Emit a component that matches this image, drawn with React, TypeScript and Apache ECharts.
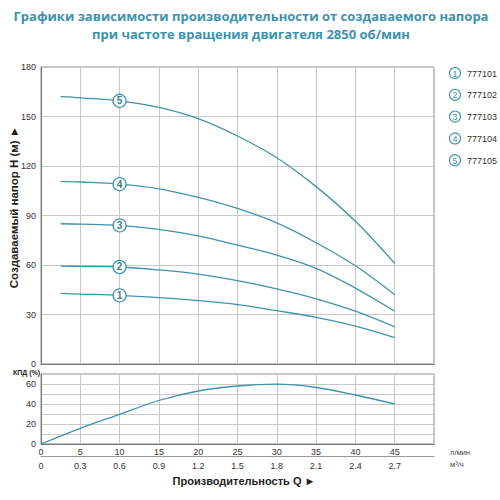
import React, { useEffect, useRef } from "react";
import * as echarts from "echarts";

// Q, l/min
const flow = [2.5, 5, 10, 15, 20, 25, 30, 35, 40, 45];
// H, m
const head101 = [42.8, 42.4, 41.6, 40.2, 38.4, 36, 32.3, 28.3, 23, 16];
const head102 = [59.3, 59.2, 58.8, 57, 54.5, 50.5, 45.5, 39.5, 32, 22.5];
const head103 = [85, 84.8, 84, 81.6, 77.6, 72, 66, 58, 46, 32];
const head104 = [110.7, 110.3, 109, 106.2, 101, 94.3, 85.5, 73.5, 59.5, 42];
const head105 = [162, 161.3, 159.5, 155.5, 148.7, 138.2, 125, 107.5, 86.5, 61];

const effFlow = [0, 5, 10, 15, 20, 25, 30, 35, 40, 45];
const efficiency = [0, 15.7, 29.7, 43.5, 53, 58, 59.8, 56.5, 49, 40];

const models = ["777101", "777102", "777103", "777104", "777105"];
const curveNumbers = ["1", "2", "3", "4", "5"];
const markerFlow = 10;

const titleLines = [
    "Графики зависимости производительности от создаваемого напора",
    "при частоте вращения двигателя 2850 об/мин",
];

const TEAL = "#3f93aa";
const TITLE = "#3a93b0";
const FONT = "Liberation Sans, Arial, sans-serif";

const App: React.FC = () => {
    const chartRef = useRef<HTMLDivElement>(null);

    useEffect(() => {
        if (!chartRef.current) return;
        const chart = echarts.init(chartRef.current, undefined, { renderer: "svg" });

        const heads = [head101, head102, head103, head104, head105];

        const curveSeries = heads.map((h, k) => ({
            type: "line",
            xAxisIndex: 0,
            yAxisIndex: 0,
            smooth: 0.35,
            symbol: "none",
            showSymbol: true,
            lineStyle: { color: TEAL, width: 1.3 },
            z: 3,
            data: flow.map((q, i) =>
                q === markerFlow
                    ? {
                          value: [q, h[i]],
                          symbol: "circle",
                          symbolSize: 13,
                          itemStyle: { color: "#fff", borderColor: TEAL, borderWidth: 1.3 },
                          label: {
                              show: true,
                              position: "inside",
                              formatter: curveNumbers[k],
                              color: "#3a7f92",
                              fontSize: 10,
                              fontWeight: "bold",
                              fontFamily: FONT,
                          },
                      }
                    : [q, h[i]]
            ),
        }));

        const legendItems = models.map((m, k) => ({
            type: "group",
            x: 455,
            y: 73 + k * 21.8,
            children: [
                {
                    type: "circle",
                    shape: { cx: 0, cy: 0, r: 5.5 },
                    style: { fill: "#fff", stroke: TEAL, lineWidth: 1.1 },
                },
                {
                    type: "text",
                    x: 0,
                    y: 0.5,
                    style: {
                        text: curveNumbers[k],
                        fill: TEAL,
                        font: `9px ${FONT}`,
                        align: "center",
                        verticalAlign: "middle",
                    },
                },
                {
                    type: "text",
                    x: 12,
                    y: 0.5,
                    style: {
                        text: m,
                        fill: "#333",
                        font: `9px ${FONT}`,
                        align: "left",
                        verticalAlign: "middle",
                    },
                },
            ],
        }));

        const titleTexts = titleLines.map((t, k) => ({
            type: "text",
            x: 251,
            y: 15.5 + k * 18,
            style: {
                text: t,
                fill: TITLE,
                font: "bold 13px 'Open Sans'",
                align: "center",
                verticalAlign: "middle",
            },
        }));

        const option = {
            animation: false,
            backgroundColor: "#fff",
            grid: [
                { left: 41, top: 67, width: 393, height: 297, show: true, borderColor: "#8c8c8c", borderWidth: 1 },
                { left: 41, top: 374, width: 393, height: 70, show: true, borderColor: "#8c8c8c", borderWidth: 1 },
            ],
            xAxis: [
                {
                    type: "value",
                    gridIndex: 0,
                    min: 0,
                    max: 50,
                    interval: 5,
                    axisLine: { show: true, lineStyle: { color: "#777" } },
                    axisTick: { show: false },
                    axisLabel: { show: false },
                    splitLine: { show: true, lineStyle: { color: "#c8c8c8" } },
                },
                {
                    type: "value",
                    gridIndex: 1,
                    min: 0,
                    max: 50,
                    interval: 5,
                    axisLine: { show: true, lineStyle: { color: "#777" } },
                    axisTick: { show: false },
                    axisLabel: {
                        margin: 3,
                        fontSize: 9,
                        color: "#333",
                        fontFamily: FONT,
                        formatter: (v: number) => (v === 50 ? "" : String(v)),
                    },
                    splitLine: { show: true, lineStyle: { color: "#c8c8c8" } },
                },
                {
                    type: "value",
                    gridIndex: 1,
                    position: "bottom",
                    offset: 12,
                    min: 0,
                    max: 50,
                    interval: 5,
                    axisLine: { show: true, lineStyle: { color: "#999" } },
                    axisTick: { show: false },
                    axisLabel: {
                        margin: 5,
                        fontSize: 9,
                        color: "#333",
                        fontFamily: FONT,
                        formatter: (v: number) => (v === 50 ? "" : v === 0 ? "0" : (v * 0.06).toFixed(1)),
                    },
                    splitLine: { show: false },
                },
            ],
            yAxis: [
                {
                    type: "value",
                    gridIndex: 0,
                    min: 0,
                    max: 180,
                    interval: 30,
                    axisLine: { show: true, lineStyle: { color: "#777" } },
                    axisTick: { show: false },
                    axisLabel: { margin: 5, fontSize: 9, color: "#333", fontFamily: FONT },
                    splitLine: { show: true, lineStyle: { color: "#c8c8c8" } },
                },
                {
                    type: "value",
                    gridIndex: 1,
                    min: 0,
                    max: 70,
                    interval: 10,
                    axisLine: { show: true, lineStyle: { color: "#777" } },
                    axisTick: { show: false },
                    axisLabel: {
                        margin: 5,
                        fontSize: 9,
                        color: "#333",
                        fontFamily: FONT,
                        formatter: (v: number) => (v % 20 === 0 ? String(v) : ""),
                    },
                    splitLine: { show: true, lineStyle: { color: "#c8c8c8" } },
                },
            ],
            series: [
                ...curveSeries,
                {
                    type: "line",
                    xAxisIndex: 1,
                    yAxisIndex: 1,
                    smooth: 0.35,
                    showSymbol: false,
                    lineStyle: { color: TEAL, width: 1.3 },
                    data: effFlow.map((q, i) => [q, efficiency[i]]),
                },
            ],
            graphic: [
                ...titleTexts,
                ...legendItems,
                {
                    type: "text",
                    x: 14,
                    y: 207,
                    rotation: Math.PI / 2,
                    style: {
                        text: "Создаваемый напор H (м) ►",
                        fill: "#222",
                        font: `bold 11.5px ${FONT}`,
                        align: "center",
                        verticalAlign: "middle",
                    },
                },
                {
                    type: "text",
                    x: 13,
                    y: 372,
                    style: {
                        text: "КПД (%)",
                        fill: "#222",
                        font: `bold 7px ${FONT}`,
                        align: "left",
                        verticalAlign: "middle",
                    },
                },
                {
                    type: "text",
                    x: 244,
                    y: 481,
                    style: {
                        text: "Производительность Q ►",
                        fill: "#222",
                        font: `bold 11px ${FONT}`,
                        align: "center",
                        verticalAlign: "middle",
                    },
                },
                {
                    type: "text",
                    x: 450,
                    y: 452,
                    style: { text: "л/мин", fill: "#444", font: `7.5px ${FONT}`, align: "left", verticalAlign: "middle" },
                },
                {
                    type: "text",
                    x: 450,
                    y: 464,
                    style: { text: "м³/ч", fill: "#444", font: `7.5px ${FONT}`, align: "left", verticalAlign: "middle" },
                },
            ],
        };

        chart.setOption(option as any);

        return () => {
            chart.dispose();
        };
    }, []);

    return (
        <div
            ref={chartRef}
            style={{ position: "absolute", left: 0, top: 0, width: 500, height: 500 }}
        />
    );
};

export default App;
